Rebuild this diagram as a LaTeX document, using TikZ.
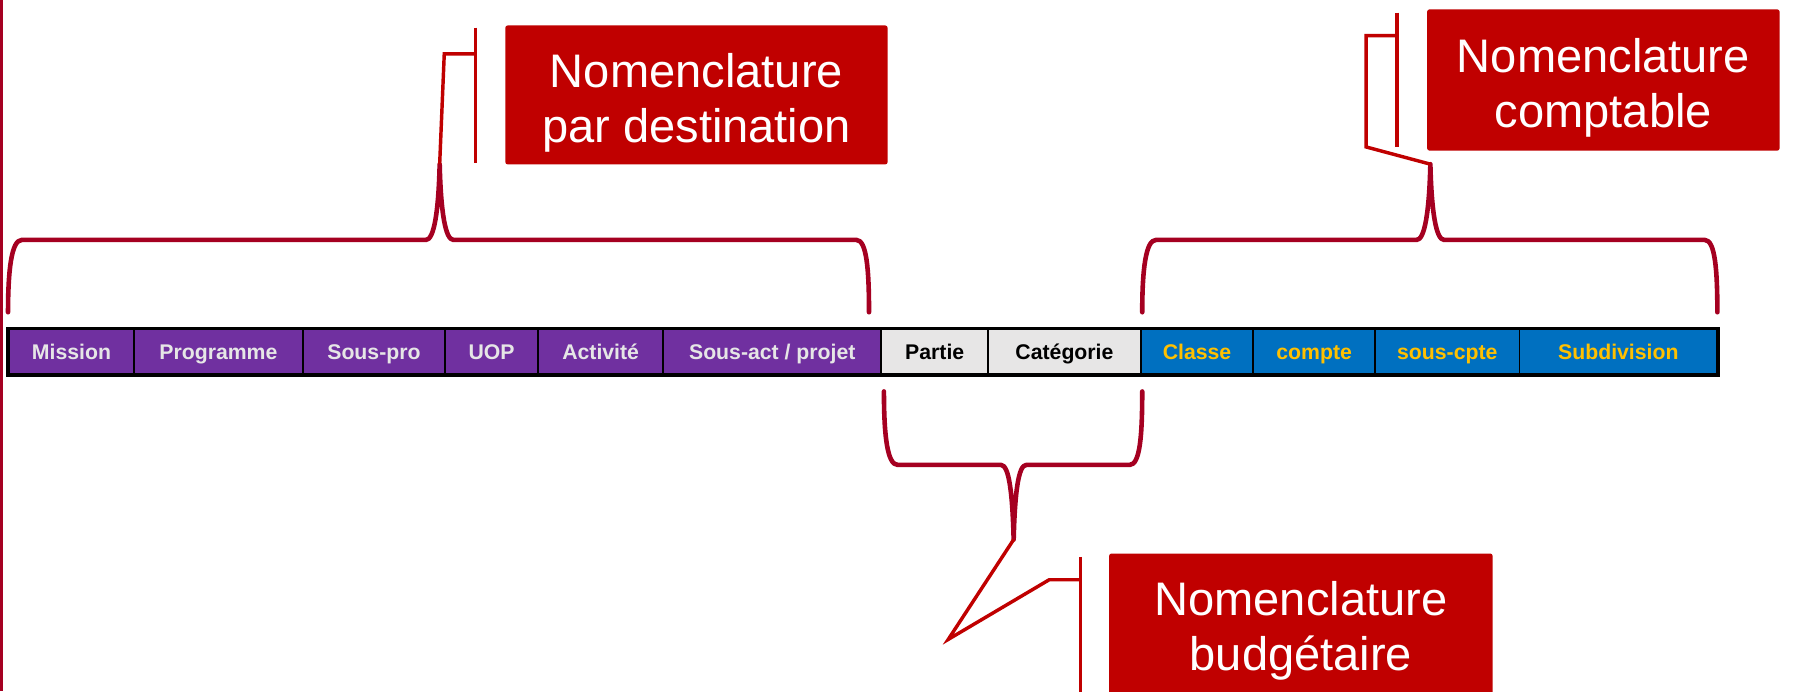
\documentclass[tikz,border=0pt]{standalone}
\usepackage{fontspec}
\setmainfont{Liberation Sans}
\definecolor{purp}{HTML}{7030A0}
\definecolor{lgray}{HTML}{E7E6E6}
\definecolor{blu}{HTML}{0070C0}
\definecolor{gold}{HTML}{FFC000}
\definecolor{boxred}{HTML}{C00000}
\definecolor{bracered}{HTML}{A50021}
\definecolor{celltxt}{HTML}{E6E6E6}
\begin{document}
\begin{tikzpicture}[x=1pt,y=-1pt,
 cell/.style={draw=black, line width=1.5pt, inner sep=0pt, minimum height=39pt, text height=16pt, text depth=3pt, anchor=west, font=\fontsize{18.5}{20}\selectfont\bfseries},
 pcell/.style={cell, fill=purp, text=celltxt},
 gcell/.style={cell, fill=lgray, text=black},
 bcell/.style={cell, fill=blu, text=gold},
 bracepath/.style={draw=bracered, line width=4pt, line join=round, line cap=round},
 leader/.style={draw=boxred, line width=3pt, line join=miter},
 labelbox/.style={fill=boxred, text=white, rounded corners=2pt, inner sep=0pt, align=center, font=\fontsize{41}{48}\selectfont, anchor=north west}
]
\clip (0,0) rectangle (1568,602);
\fill[white] (0,0) rectangle (1568,602);
% left border
\draw[bracered, line width=3pt] (1.5,0) -- (1.5,602);

% table cells
\node[pcell, minimum width=109pt] (c1) at (7,306.5) {Mission};
\node[pcell, minimum width=147pt] (c2) at (116,306.5) {Programme};
\node[pcell, minimum width=124pt] (c3) at (263,306.5) {Sous-pro};
\node[pcell, minimum width=81pt] (c4) at (387,306.5) {UOP};
\node[pcell, minimum width=109pt] (c5) at (468,306.5) {Activité};
\node[pcell, minimum width=190pt] (c6) at (577,306.5) {Sous-act / projet};
\node[gcell, minimum width=93pt] (c7) at (767,306.5) {Partie};
\node[gcell, minimum width=133pt] (c8) at (860,306.5) {Catégorie};
\node[bcell, minimum width=98pt] (c9) at (993,306.5) {Classe};
\node[bcell, minimum width=106pt] (c10) at (1091,306.5) {compte};
\node[bcell, minimum width=126pt] (c11) at (1197,306.5) {sous-cpte};
\node[bcell, minimum width=172pt] (c12) at (1323,306.5) {Subdivision};
\draw[black, line width=3pt] (c1.north west) rectangle (c12.south east);

% label boxes
\node[labelbox, minimum width=333pt, minimum height=121pt] (bdest) at (440,22) {\rule{0pt}{44pt}Nomenclature\\par destination};
\node[labelbox, minimum width=307pt, minimum height=123pt] (bcompt) at (1243,8) {\rule{0pt}{43pt}Nomenclature\\comptable};
\node[labelbox, minimum width=334pt, minimum height=128pt] (bbudg) at (966,482) {\rule{0pt}{36pt}Nomenclature\\budgétaire};

% braces
\coordinate (tip1) at (383,143);
\coordinate (tip2) at (1246,143);
\coordinate (tip3) at (883,470);
\path[bracepath] (7,272) .. controls (7,235) and (10,209) .. (19,209) -- (371,209)
  .. controls (378,209) and (382,185) .. (tip1)
  .. controls (384,185) and (388,209) .. (395,209) -- (746,209)
  .. controls (755,209) and (757,235) .. (757,272);
\path[bracepath] (995,272) .. controls (995,235) and (998,209) .. (1007,209) -- (1234,209)
  .. controls (1241,209) and (1245,185) .. (tip2)
  .. controls (1247,185) and (1251,209) .. (1258,209) -- (1485,209)
  .. controls (1494,209) and (1496,235) .. (1496,272);
\path[bracepath] (770,341) .. controls (770,380) and (773,405) .. (782,405) -- (872,405)
  .. controls (879,405) and (882,430) .. (tip3)
  .. controls (884,430) and (887,405) .. (894,405) -- (984,405)
  .. controls (993,405) and (995,380) .. (995,341);

% accent bars
\coordinate (a1t) at (414,24); \coordinate (a1b) at (414,142);
\coordinate (a2t) at (1217,11); \coordinate (a2b) at (1217,128);
\coordinate (a3t) at (941,485); \coordinate (a3b) at (941,610);
\draw[leader] (a1t) -- (a1b);
\draw[leader] (a2t) -- (a2b);
\draw[leader] (a3t) -- (a3b);

% leaders
\draw[leader] (414,47) -- (387,47) -- (tip1);
\draw[leader] (1217,31) -- (1190,31) -- (1190,128) -- (tip2);
\draw[leader] (941,505) -- (914,505) -- (826,557) -- (tip3);
\end{tikzpicture}
\end{document}
